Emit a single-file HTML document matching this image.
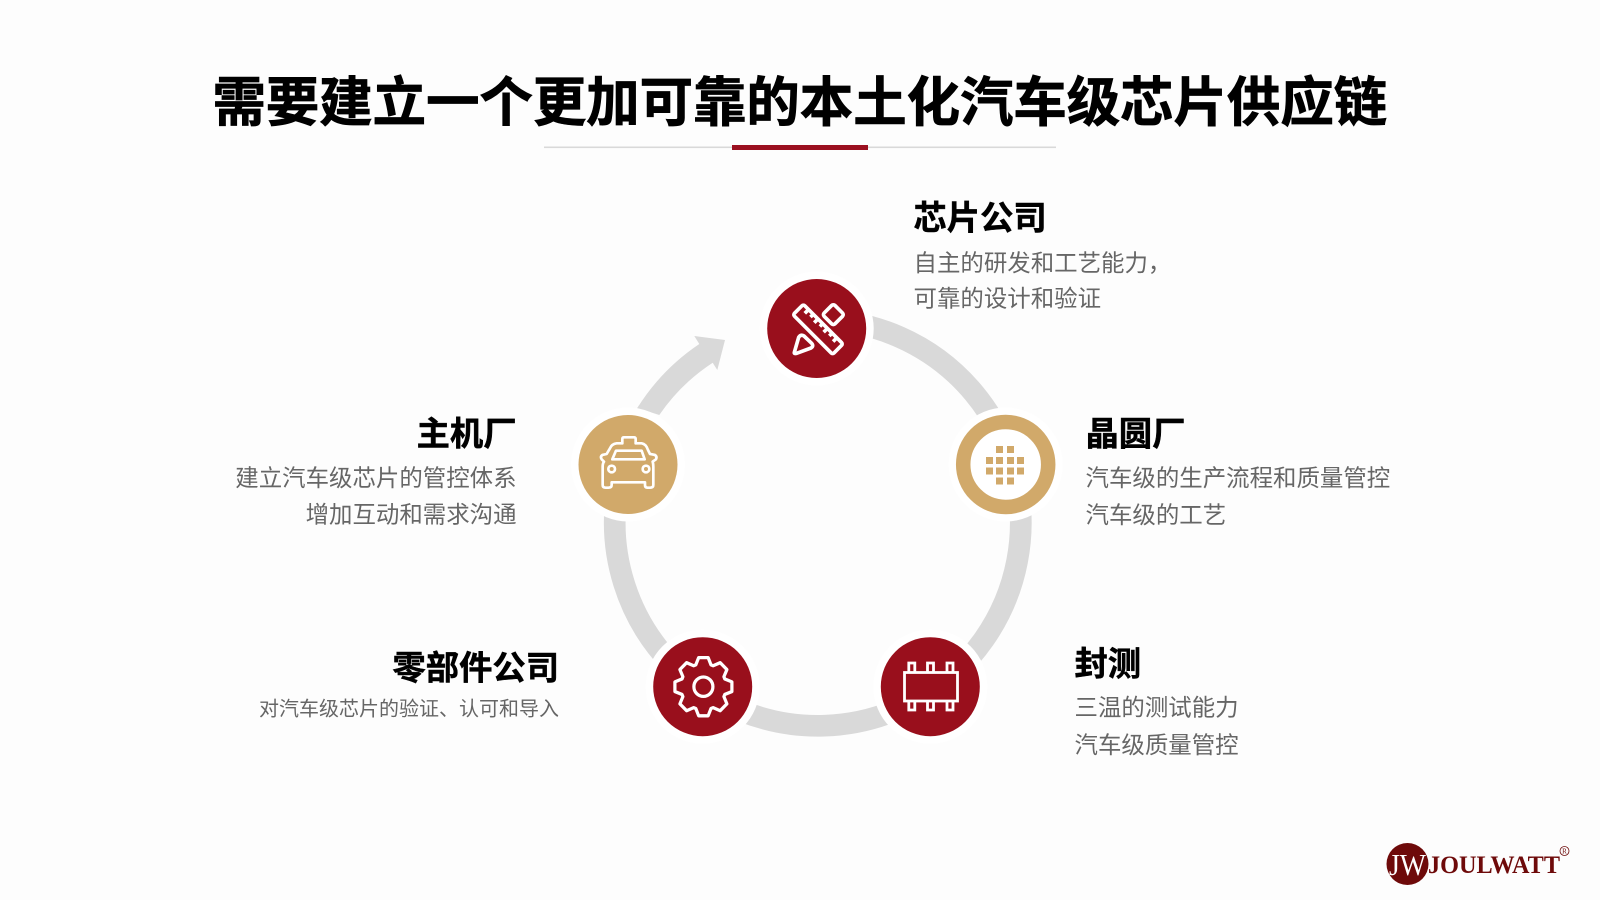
<!DOCTYPE html>
<html lang="zh"><head><meta charset="utf-8"><title>汽车级芯片供应链</title>
<style>
html,body{margin:0;padding:0;background:#fdfdfd;width:1600px;height:900px;overflow:hidden}
svg{display:block}
text{font-family:"Liberation Sans","Noto Sans CJK SC",sans-serif}
.h{font-size:33.3px;font-weight:700;fill:#000;stroke:#000;stroke-width:.5px}
.d{font-size:23.45px;fill:#666}
</style></head><body>
<svg width="1600" height="900" viewBox="0 0 1600 900" xmlns="http://www.w3.org/2000/svg">
<rect width="1600" height="900" fill="#fdfdfd"/>
<text x="212.5" y="121" font-size="53.4" font-weight="700" fill="#000" stroke="#000" stroke-width=".8">需要建立一个更加可靠的本土化汽车级芯片供应链</text>
<rect x="544" y="146.5" width="512" height="1.6" fill="#d9d9d9"/>
<rect x="732" y="145" width="136" height="5" fill="#9b1020"/>

<path d="M817 319.8A203 203 0 1 1 648 411.5" fill="none" stroke="#d9d9d9" stroke-width="21.7"/>
<path d="M637.3 408A214 214 0 0 1 699.3 344L694.3 336L725 340L717.3 370L712.7 362.7A192 192 0 0 0 659.3 415Z" fill="#d9d9d9"/>

<g fill="#fff">
<circle cx="816.7" cy="328.5" r="57"/><circle cx="1005.7" cy="464.5" r="57"/><circle cx="930.3" cy="686.7" r="57"/><circle cx="702.7" cy="686.7" r="57"/><circle cx="628" cy="464.5" r="57"/>
</g>
<circle cx="816.7" cy="328.5" r="49.5" fill="#990f1c"/>
<circle cx="930.3" cy="686.7" r="49.5" fill="#990f1c"/>
<circle cx="702.7" cy="686.7" r="49.5" fill="#990f1c"/>
<circle cx="628" cy="464.5" r="49.5" fill="#d1a96a"/>
<circle cx="1005.7" cy="464.5" r="42.5" fill="#fff" stroke="#d1a96a" stroke-width="14.5"/>

<!-- ruler icon -->
<g transform="translate(740 260) scale(.3333)" fill="none" stroke="#fff" stroke-width="11" stroke-linejoin="round">
<g transform="translate(234 208) rotate(45)">
<rect x="-84" y="-22" width="168" height="44" rx="6"/>
<path d="M-62 -22V-6M-42 -22V-10M-22 -22V-6M-2 -22V-10M18 -22V-6M38 -22V-10M58 -22V-6"/>
</g>
<rect x="-23" y="-23" width="46" height="46" rx="7" transform="translate(280 164) rotate(45)"/>
<path d="M163 277L176 232Q182 222 192 228L215 250Q222 258 213 264L170 280Q162 282 163 277Z"/>
</g>

<!-- grid icon -->
<g fill="#d1a96a">
<rect x="996" y="446" width="7" height="7"/><rect x="1007" y="446" width="7" height="7"/>
<rect x="986" y="457" width="7" height="7"/><rect x="996" y="457" width="7" height="7"/><rect x="1007" y="457" width="7" height="7"/><rect x="1017" y="457" width="7" height="7"/>
<rect x="986" y="467.5" width="7" height="7"/><rect x="996" y="467.5" width="7" height="7"/><rect x="1007" y="467.5" width="7" height="7"/><rect x="1017" y="467.5" width="7" height="7"/>
<rect x="996" y="477.5" width="7" height="7"/><rect x="1007" y="477.5" width="7" height="7"/>
</g>

<!-- chip icon -->
<g fill="none" stroke="#fff" stroke-width="2.8">
<rect x="904.5" y="672.5" width="53" height="28.5"/>
<path d="M908.8 672V663H914.8V672M927.5 672V663H933.5V672M947 672V663H953V672M908.8 701V710H914.8V701M927.5 701V710H933.5V701M947 701V710H953V701"/>
</g>

<!-- gear icon -->
<g transform="translate(703.4 686.7) scale(.95 .97)" fill="none" stroke="#fff" stroke-width="3.4" stroke-linejoin="round">
<path d="M-8 -22.5L-5 -30L5 -30L8 -22.5L10.25 -21.57L17.68 -24.75L24.75 -17.68L21.57 -10.25L22.5 -8L30 -5L30 5L22.5 8L21.57 10.25L24.75 17.68L17.68 24.75L10.25 21.57L8 22.5L5 30L-5 30L-8 22.5L-10.25 21.57L-17.68 24.75L-24.75 17.68L-21.57 10.25L-22.5 8L-30 5L-30 -5L-22.5 -8L-21.57 -10.25L-24.75 -17.68L-17.68 -24.75L-10.25 -21.57Z"/>
<circle r="10"/>
</g>

<!-- car icon -->
<g transform="translate(560 320) scale(.3333)" fill="none" stroke="#fff" stroke-width="8" stroke-linejoin="round">
<path d="M150 385Q155 372 170 370L187 370L187 357Q187 352 192 352L222 352Q227 352 227 357L227 370L245 370Q258 372 264 390L270 402L285 405Q292 410 288 418L278 425Q280 432 280 440L280 495Q280 503 270 503L262 503Q255 503 255 495L255 487L155 487L155 495Q155 503 145 503L137 503Q128 503 128 495L128 440Q128 430 132 425L125 418Q120 410 127 405L140 402Z"/>
<path d="M157 418L168 392L245 392L254 418Z"/>
<circle cx="155" cy="447" r="10"/><circle cx="258" cy="447" r="10"/>
</g>

<!-- labels -->
<text class="h" x="913.5" y="229.5">芯片公司</text>
<text class="d" x="913.5" y="271">自主的研发和工艺能力，</text>
<text class="d" x="913.5" y="306.3">可靠的设计和验证</text>

<text class="h" x="1085.5" y="445.5">晶圆厂</text>
<text class="d" x="1085.5" y="486">汽车级的生产流程和质量管控</text>
<text class="d" x="1085.5" y="523">汽车级的工艺</text>

<text class="h" x="1074.5" y="675.5">封测</text>
<text class="d" x="1074.5" y="715.5">三温的测试能力</text>
<text class="d" x="1074.5" y="753">汽车级质量管控</text>

<text class="h" x="516.5" y="445.5" text-anchor="end">主机厂</text>
<text class="d" x="516.5" y="486" text-anchor="end">建立汽车级芯片的管控体系</text>
<text class="d" x="516.5" y="522.5" text-anchor="end">增加互动和需求沟通</text>

<text class="h" x="559" y="679.5" text-anchor="end">零部件公司</text>
<text x="559" y="715.5" text-anchor="end" font-size="20" fill="#666">对汽车级芯片的验证、认可和导入</text>

<!-- logo -->
<circle cx="1407.5" cy="864" r="21" fill="#6e0a0a"/>
<text x="1389" y="875" font-size="31" fill="#fff" textLength="37" lengthAdjust="spacingAndGlyphs" style="font-family:'Liberation Serif',serif">JW</text>
<text x="1428" y="873" font-size="25" font-weight="700" fill="#6e0a0a" textLength="132" lengthAdjust="spacingAndGlyphs" style="font-family:'Liberation Serif',serif">JOULWATT</text>
<circle cx="1564.5" cy="851" r="4.5" fill="none" stroke="#6e0a0a" stroke-width=".8"/>
<text x="1564.5" y="853.5" font-size="7" fill="#6e0a0a" text-anchor="middle" style="font-family:'Liberation Serif',serif">R</text>
</svg>
</body></html>
